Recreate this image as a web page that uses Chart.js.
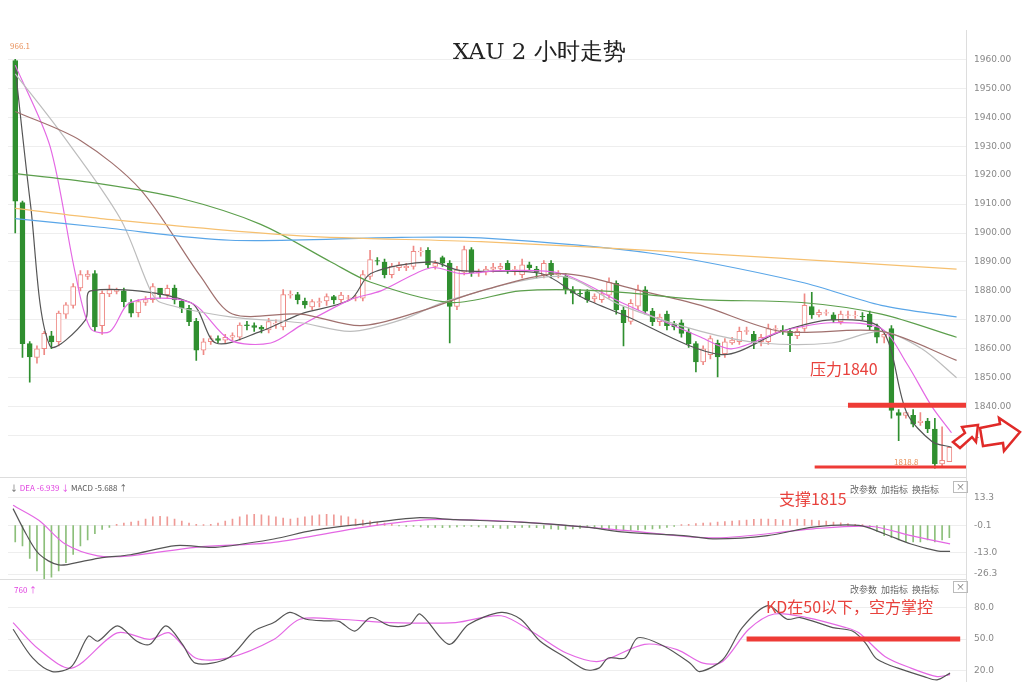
<!DOCTYPE html>
<html><head><meta charset="utf-8">
<script src="https://cdn.jsdelivr.net/npm/chart.js@4"></script>
<style>
body{margin:0;background:#fff;width:1024px;height:689px;overflow:hidden;position:relative;font-family:"Noto Sans CJK SC","Noto Sans",sans-serif}
.p{position:absolute;left:0;width:1024px}
.t{position:absolute;white-space:nowrap}
.sep{position:absolute;left:0;width:966px;height:1px;background:#ddd}
.btn{position:absolute;font-size:9px;color:#666}
</style></head><body>
<div class="p" style="top:17px;height:474px"><canvas id="main"></canvas></div>
<div class="p" style="top:465px;height:128px"><canvas id="macd"></canvas></div>
<div class="p" style="top:567px;height:128px"><canvas id="kd"></canvas></div>
<div class="sep" style="top:477px"></div>
<div class="sep" style="top:579px"></div>
<div class="t" style="left:453px;top:36px;font-family:'DejaVu Serif','Liberation Serif',serif;font-size:23px;color:#222">XAU 2 小时走势</div>
<div class="t" style="left:10px;top:40px;font-size:8px;color:#e8905a">966.1</div>
<div class="t" style="left:894px;top:456px;font-size:8px;color:#e8905a">1818.8</div>
<div class="t" style="left:810px;top:356px;font-size:16px;color:#e8413c">压力1840</div>
<div class="t" style="left:779px;top:486px;font-size:16px;color:#e8413c">支撑1815</div>
<div class="t" style="left:766px;top:594px;font-size:16px;color:#e8413c">KD在50以下，空方掌控</div>
<div class="t" style="left:10px;top:482px;font-size:8px;color:#555">↓ <span style="color:#e040e0">DEA -6.939</span> <span style="color:#e040e0">↓</span> MACD -5.688 ↑</div>
<div class="t" style="left:14px;top:584px;font-size:8px;color:#e040e0">760 ↑</div>
<div class="btn" style="left:850px;top:483px">改参数&nbsp; 加指标&nbsp; 换指标</div>
<div class="btn" style="left:953px;top:481px;border:1px solid #bbb;padding:0 2px;line-height:10px">×</div>
<div class="btn" style="left:850px;top:583px">改参数&nbsp; 加指标&nbsp; 换指标</div>
<div class="btn" style="left:953px;top:581px;border:1px solid #bbb;padding:0 2px;line-height:10px">×</div>
<svg style="position:absolute;left:945px;top:412px" width="79" height="44">
<path d="M8 30 L20 21 L17 15 L33 13 L31 30 L27 25 L15 36 Z" fill="#fff" stroke="#e02a28" stroke-width="2.5"/>
<path d="M35 16 L55 12 L54 6 L75 20 L59 39 L58 31 L38 34 Z" fill="#fff" stroke="#e02a28" stroke-width="2.5"/>
</svg>
<script>
const opens=[1959.6,1910.5,1861.8,1857,1860,1864.5,1862.5,1872,1875,1881,1885,1886,1868,1879,1879.8,1880,1876,1872.5,1876,1877,1881,1878.7,1881,1876.5,1874,1869.5,1859.5,1862.5,1863.5,1863,1864,1864,1868.3,1868,1867.4,1866.5,1868.5,1867.6,1878.5,1878.7,1876.5,1874.5,1876,1876.5,1878,1877,1877.5,1877.5,1877.5,1885,1890.5,1890,1885.6,1888,1888,1888.5,1893.5,1894,1888.5,1891.5,1889.6,1874.6,1886.5,1894.3,1886.2,1886.5,1887.5,1887.8,1889.5,1887.2,1885.6,1889,1887.5,1885.5,1889.5,1885.5,1885,1880.4,1879.2,1879.8,1877.2,1877,1878.5,1882.6,1873.4,1869.5,1874.7,1880.4,1873,1869.4,1872,1868.6,1869,1865.8,1861.8,1855.5,1858,1862,1858.3,1862,1862.5,1866,1865,1862.5,1862.5,1866.8,1866.5,1866,1864.5,1867,1874.6,1871.7,1872.3,1871.7,1869.4,1871.5,1871.5,1871.2,1872,1867.5,1864,1867,1838,1837,1837,1834.5,1835,1832.3,1820.2,1821];
const closes=[1911,1861.8,1857.2,1860,1865.3,1862.4,1872.3,1875.2,1881.5,1885.6,1885.8,1867.6,1879.2,1880.4,1880.3,1876.3,1872.3,1876.3,1877,1881.5,1878.7,1880.9,1876.9,1874,1869.4,1859.5,1862.4,1863.5,1862.9,1864,1864.6,1868.2,1868,1867.4,1866.8,1869.4,1868.9,1878.7,1878.8,1877,1875.2,1876.3,1876.3,1878,1876.9,1878.6,1877.6,1877.6,1885.6,1890.8,1890.3,1885.6,1888.5,1889,1888.5,1893.7,1893.8,1889,1889.5,1889.6,1874.6,1887.3,1894.3,1886.2,1886.4,1887.5,1888.2,1888.5,1887.2,1887.4,1889,1888,1886.5,1889.5,1885.5,1886,1880.4,1879.2,1879,1877,1878,1879,1883,1873.4,1869,1875.7,1880.4,1873,1869.4,1871,1868,1867.6,1865.3,1861.8,1855.5,1860,1863.5,1857.2,1862.4,1863,1866,1866.3,1862,1864,1867,1867,1866,1864.5,1866,1875,1871.7,1872.6,1872.5,1870,1872,1871.7,1871.6,1871,1867.6,1864,1865,1838.7,1837,1838,1834,1835,1832.3,1820.2,1821.5,1826];
const highs=[1960,1911,1862.5,1861,1866,1866,1873,1876,1882.5,1887,1887,1887,1880,1882,1881,1881,1877,1877,1878,1882.5,1880,1882,1882,1877,1875,1870.5,1863.5,1864.5,1864.5,1865,1865.5,1869,1869.5,1869,1868,1870.5,1870,1880.5,1880,1879.5,1877.5,1877,1877.5,1879,1878.5,1879.5,1878.5,1878.5,1887,1894,1891.5,1891,1889.5,1890,1889.5,1895.5,1895,1895,1890.5,1892,1890.5,1888.5,1895.5,1895,1887.5,1888.5,1889.5,1889.5,1890.5,1888.5,1891,1890,1888.5,1890.5,1890.5,1887,1886,1881.5,1880.5,1880.5,1879,1880.5,1884.5,1883.5,1874.5,1877,1882,1881.5,1874,1872,1873,1869.5,1870,1867,1862.5,1861,1864.5,1863,1863.5,1864,1867.5,1867.5,1866,1865,1868.5,1868,1868,1867,1867,1879,1879.5,1873.5,1873.5,1872.5,1873,1873,1873,1872.5,1873,1868.5,1865.5,1868,1839,1838,1839,1838,1836,1836,1833,1822.5,1827];
const lows=[1900,1857,1848.5,1855,1858,1860,1861,1870.5,1874,1880,1884,1866,1865,1878,1879,1874.5,1871,1871,1875,1876,1877.5,1877.5,1875.5,1872.5,1868,1856,1858,1861.5,1862,1862,1863,1863,1866.5,1866,1865.5,1865.5,1867,1866.5,1877.5,1875.5,1874,1873.5,1874.5,1875,1875.5,1876,1876.5,1876.5,1876.5,1884,1889,1884.5,1884.5,1887,1887,1887.5,1892,1888,1887.5,1888.5,1862,1873.5,1885.5,1885,1885,1885.5,1886.5,1887,1886,1885.5,1884.5,1887,1884.5,1884.5,1884.5,1884.5,1879,1875.5,1878,1876,1876,1876,1877.5,1872,1861,1868.5,1873.5,1872,1868,1868,1866.5,1866.5,1864,1860.5,1852,1854.5,1856.5,1850.3,1857,1861.5,1861.5,1865,1860,1861,1861.5,1865.5,1865,1859,1863.5,1866,1870.5,1871,1871.5,1869,1868.5,1870.5,1870.5,1870,1866.5,1862,1862,1836,1828.3,1836,1833,1833.5,1831,1818.8,1819.5,1821];
// moving averages: [index, value]
const maYellow=[[0,1908.5],[11.8,1905],[39.4,1899],[64.3,1897],[94.7,1893],[130,1887.5]];
const maBlue=[[0,1905],[11.8,1902],[29.7,1897.5],[53.3,1898.5],[64.3,1898.3],[87.8,1893],[108.6,1883],[119.6,1875],[130,1871]];
const maGreen=[[0,1920.5],[11.8,1917],[22.8,1912],[33.9,1903],[43.6,1890],[49.1,1883],[60.2,1876],[69.8,1880],[80.9,1880],[94.7,1877],[108.6,1876],[119.6,1872],[130,1864]];
const maBrown=[[0,1942],[9,1932],[17.3,1915],[25.6,1885],[30,1872],[39.4,1872],[47.7,1868],[56,1873],[64.3,1880],[75.4,1886],[86.4,1880],[94.7,1875],[105.8,1866],[119.6,1866],[130,1856]];
const maGray=[[0,1955],[6.2,1935],[14.5,1905],[18.7,1880],[20.1,1876],[29.7,1871],[39.4,1869],[46.3,1866],[53.3,1870],[60.2,1877],[75.4,1885],[83.7,1875],[94.7,1866],[103,1862],[112.7,1862],[119.6,1866],[125.2,1860],[130,1850]];
const maPink=[[0,1958],[4.8,1930],[8.3,1886],[10.4,1867],[13.1,1866],[15.9,1876],[24.2,1876],[29.7,1863],[35.3,1862],[39.4,1868],[46.3,1877],[50.5,1880],[57.4,1888],[61.5,1886],[67.1,1887],[75.4,1886],[83.7,1876],[94.7,1864],[98.9,1860],[105.8,1866],[112.7,1869],[119.6,1867],[123.1,1855],[126.6,1840],[129.3,1831]];
const maBlack=[[0,1957],[2.1,1910],[4.8,1861],[9.7,1870],[10.4,1880],[24.2,1876],[27.7,1862],[33.9,1866],[39.4,1872],[46.3,1877],[49.1,1886],[57.4,1890],[61.5,1887],[72.6,1886],[78.1,1878],[83.7,1872],[97.5,1858],[105.8,1866],[112.7,1870],[119.6,1867],[123.1,1838],[126.6,1828],[129.3,1826]];
const resistance=1840.5, resistFrom=115, support=1819.2, supportFrom=110.4;
const mainTicks=[1830,1840,1850,1860,1870,1880,1890,1900,1910,1920,1930,1940,1950,1960];
// MACD
const dif=[[-0.3,8],[1.5,-4.2],[3.3,-13.9],[6,-19.1],[9.6,-17.1],[12.3,-15.5],[15.9,-14.2],[22.2,-9.8],[27.6,-10.6],[35.7,-6.6],[41.1,-2.5],[48.2,0.7],[55.4,3.6],[60.8,2.7],[69.8,1.5],[78.8,-0.9],[84.2,-3.3],[92.3,-5],[96.8,-6.6],[103.9,-5],[110.2,-0.9],[116.5,-0.1],[120.1,-4.2],[123.7,-9],[127.3,-12.3],[129.1,-12.6]];
const dea=[[-0.3,9.6],[3.3,2.3],[6.9,-9],[11.4,-14.7],[15.9,-14.7],[24.9,-10.6],[35.7,-8.2],[48.2,-0.9],[57.2,2.7],[69.8,1.5],[84.2,-2.5],[96.8,-6.1],[110.2,-1.7],[118.3,-0.6],[123.7,-5],[129.1,-9]];
const macdHist=[-8,-10,-16,-22,-26,-25,-22,-18,-14,-10,-7,-4,-2,-1,
0.5,1,1.5,2,3,4,4.3,4,3,2,1,0.5,0.3,0.5,
1,2,3,4,5,5.3,5,4.5,4,3.5,3,3.5,4,4.5,5,5.3,5,4.5,4,3,2.5,2,1.5,1,0.5,
-0.3,-0.5,-0.5,-0.8,-1,-1,-1.2,-1,-0.8,-0.5,-0.5,-0.8,-1,-1.2,-1.5,-1.5,-1.2,-1,-1,-1.2,-1.5,-1.8,-2,-2,-1.8,-1.5,-1.2,-1.5,-1.8,-2,-2.2,-2.5,-2.5,-2.2,-2,-1.8,-1.5,-1,-0.5,
0.3,0.5,0.8,1,1.2,1.5,1.8,2,2.2,2.5,2.8,3,3,2.8,2.5,2.8,3,2.8,2.5,2.2,2,1.5,1.2,0.8,0.5,0.3,
-1,-3,-5,-6,-7,-8,-8,-8,-7,-8,-7,-6];
const macdTickVals=[13.3,-0.1,-13.0,-23.5], macdTickLabels=['13.3','-0.1','-13.0','-26.3'];
// KD
const kLine=[[-0.3,59.4],[2.4,32],[5.1,19],[7.8,23.9],[10.1,52.9],[11.4,48],[14.1,62.6],[16.8,48],[18.6,45],[20.8,62.6],[23.1,45],[24.9,27],[29.4,32],[33,57.7],[35.7,65.8],[37.9,75.5],[40.2,69],[42.9,67.4],[44.7,67],[46.9,57.7],[49.1,70.6],[51.8,62.6],[54.5,64],[55.9,74],[59.9,45],[62.6,64],[67.1,75.5],[69.8,69],[72.5,48],[76.1,32],[78.8,20.7],[80.6,22.3],[81.9,32],[84.2,32],[86,51.3],[89.6,43.2],[93.2,27],[94.5,19],[97.7,30.3],[100.4,61],[103.9,82],[106.6,69],[108.4,70.6],[112.9,61],[115.6,57.7],[117.4,46.4],[118.8,32],[120.1,27],[121.9,22.3],[125.5,14.2],[127.3,11],[129.1,17.5]];
const dLine=[[-0.3,65.8],[3.3,40],[7.8,22.3],[14.1,56],[18.6,49.7],[21.3,56],[24.9,32],[29.4,32],[35.7,49.7],[39.3,69],[44.7,69],[51.8,65.8],[60.8,65.8],[67.1,72.3],[71.6,56],[76.1,36.7],[80.6,28.7],[86.9,45],[91.4,40],[95,27],[97.7,28.7],[101.3,59.4],[104.8,74],[109.3,70.6],[114.7,61],[116.5,56],[120.1,33.5],[123.7,22.3],[127.3,14.2],[129.1,16]];
const kdLevel=50, kdLevelFrom=101;

const XMIN=-1.0, XMAX=131.3;
const pts=a=>a.map(p=>({x:p[0],y:p[1]}));
const xAxis={type:'linear',display:false,offset:false,min:XMIN,max:XMAX,grid:{display:false}};
function yAxis(min,max,ticks,labels){return{position:'right',min,max,
 afterFit:s=>{s.width=58},
 afterBuildTicks:s=>{s.ticks=ticks.map(v=>({value:v}))},
 ticks:{font:{size:9,family:'DejaVu Sans'},color:'#888',padding:8,callback:(v,i)=>labels?labels[i]:Number(v).toFixed(2)},
 grid:{color:'#eee',drawTicks:false},border:{color:'#ddd'}};}
Chart.defaults.animation=false;
const baseOpts={responsive:true,maintainAspectRatio:false,plugins:{legend:{display:false},tooltip:{enabled:false}},layout:{padding:{left:8,top:0,bottom:0,right:0}},elements:{point:{radius:0}}};
const line=(d,c,w)=>({type:'line',data:pts(d),borderColor:c,borderWidth:w||1.2,tension:0.3,order:0});
const GREEN='#2f8f2f', RED='#ee8a86';
const isUp=opens.map((o,i)=>closes[i]>=o);
new Chart(document.getElementById('main'),{type:'bar',data:{datasets:[
 line(maYellow,'#f6c070'),line(maBlue,'#5aa6e8'),line(maGreen,'#5c9f4c'),line(maBrown,'#a0706e'),line(maGray,'#bdbdbd'),line(maPink,'#e468e4'),line(maBlack,'#555'),
 {type:'line',data:[{x:resistFrom,y:resistance},{x:XMAX,y:resistance}],borderColor:'#ee3b36',borderWidth:5,order:-1},
 {type:'line',data:[{x:supportFrom,y:support},{x:XMAX,y:support}],borderColor:'#ee3b36',borderWidth:3,order:-1},
 {type:'bar',data:opens.map((o,i)=>({x:i,y:[Math.min(o,closes[i]),Math.max(o,closes[i])]})),grouped:false,barThickness:5,
  backgroundColor:isUp.map(u=>u?'#fff':GREEN),borderColor:isUp.map(u=>u?RED:GREEN),borderWidth:1,borderSkipped:false,order:1},
 {type:'bar',data:lows.map((l,i)=>({x:i,y:[l,highs[i]]})),grouped:false,barThickness:1,backgroundColor:isUp.map(u=>u?RED:GREEN),order:2}
]},options:{...baseOpts,scales:{x:xAxis,y:yAxis(1815.5,1970,mainTicks)}}});
new Chart(document.getElementById('macd'),{type:'bar',data:{datasets:[
 line(dif,'#555'),line(dea,'#e468e4'),
 {type:'bar',data:macdHist.map((v,i)=>({x:i,y:[-0.1,v]})),grouped:false,barThickness:1,backgroundColor:macdHist.map(v=>v>=0?'#ef9a96':'#8cbf7a'),order:2}
]},options:{...baseOpts,scales:{x:xAxis,y:yAxis(-26.15,22.55,macdTickVals,macdTickLabels)}}});
new Chart(document.getElementById('kd'),{type:'line',data:{datasets:[
 line(kLine,'#555'),line(dLine,'#e468e4'),
 {type:'line',data:[{x:kdLevelFrom,y:kdLevel},{x:130.5,y:kdLevel}],borderColor:'#ee3b36',borderWidth:5,order:-1}
]},options:{...baseOpts,scales:{x:xAxis,y:yAxis(9.4,106.1,[80,50,20],['80.0','50.0','20.0'])}}});
</script></body></html>
